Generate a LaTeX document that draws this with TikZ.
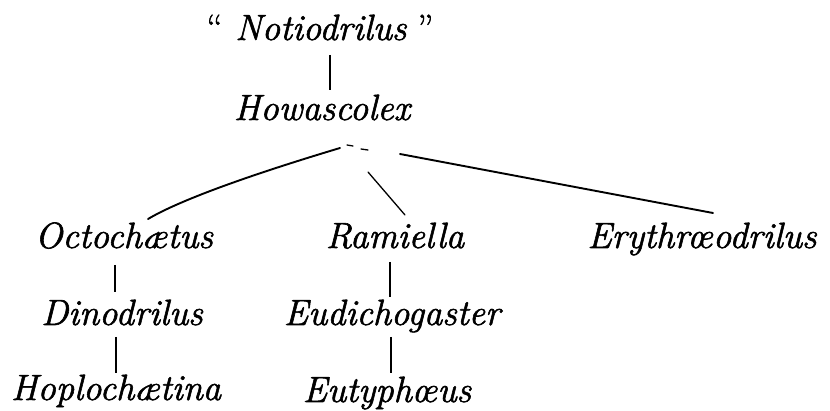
\documentclass[tikz,border=0pt]{standalone}
\usepackage{fontspec}
\newfontfamily\taxfont{Latin Modern Roman}[FakeBold=1.6,Ligatures=TeX]
\begin{document}
\begin{tikzpicture}[x=1pt,y=-1pt,
  taxon/.style={anchor=base,inner sep=0pt,font=\taxfont\fontsize{36.5}{40}\selectfont\itshape},
  link/.style={line width=2.4pt},
  branch/.style={line width=1.9pt,line cap=round},
  thin/.style={line width=1.3pt,line cap=round}]
\useasboundingbox (0,0) rectangle (830,411);
\node[taxon] (not) at (320,40) {\upshape “\hspace{0.35em}\itshape Notiodrilus\hspace{0.3em}\upshape ”};
\node[taxon] (how) at (322,120) {Howascolex};
\node[taxon] (oct) at (124,248) {Octoch\ae tus};
\node[taxon] (ram) at (395,248) {Ramiella};
\node[taxon] (ery) at (702,248) {Erythr\oe odrilus};
\node[taxon] (din) at (122,325) {Dinodrilus};
\node[taxon] (eud) at (392,325) {Eudichogaster};
\node[taxon] (hop) at (116,400) {Hoploch\ae tina};
\node[taxon] (eut) at (387,402) {Eutyph\oe us};
% connector ends
\coordinate (a1) at (330,55); \coordinate (a2) at (330,90);
\coordinate (o1) at (115,265); \coordinate (o2) at (115,292);
\coordinate (d1) at (116,337); \coordinate (d2) at (116,373);
\coordinate (r1) at (390,262); \coordinate (r2) at (390,297);
\coordinate (e1) at (391,337); \coordinate (e2) at (391,373);
\coordinate (bl1) at (340,148); \coordinate (bl2) at (148,219);
\coordinate (br1) at (368,172); \coordinate (br2) at (405,215);
\coordinate (be1) at (400,154); \coordinate (be2) at (713,213);
\coordinate (k1) at (347,145); \coordinate (k2) at (353,146);
\coordinate (k3) at (361,149); \coordinate (k4) at (368,150);
\draw[link] (a1) -- (a2);
\draw[link] (o1) -- (o2);
\draw[link] (d1) -- (d2);
\draw[link] (r1) -- (r2);
\draw[link] (e1) -- (e2);
\draw[branch] (bl1) .. controls (250,175) and (180,200) .. (bl2);
\draw[thin] (br1) -- (br2);
\draw[branch] (be1) -- (be2);
\draw[thin] (k1) -- (k2);
\draw[thin] (k3) -- (k4);
\end{tikzpicture}
\end{document}
